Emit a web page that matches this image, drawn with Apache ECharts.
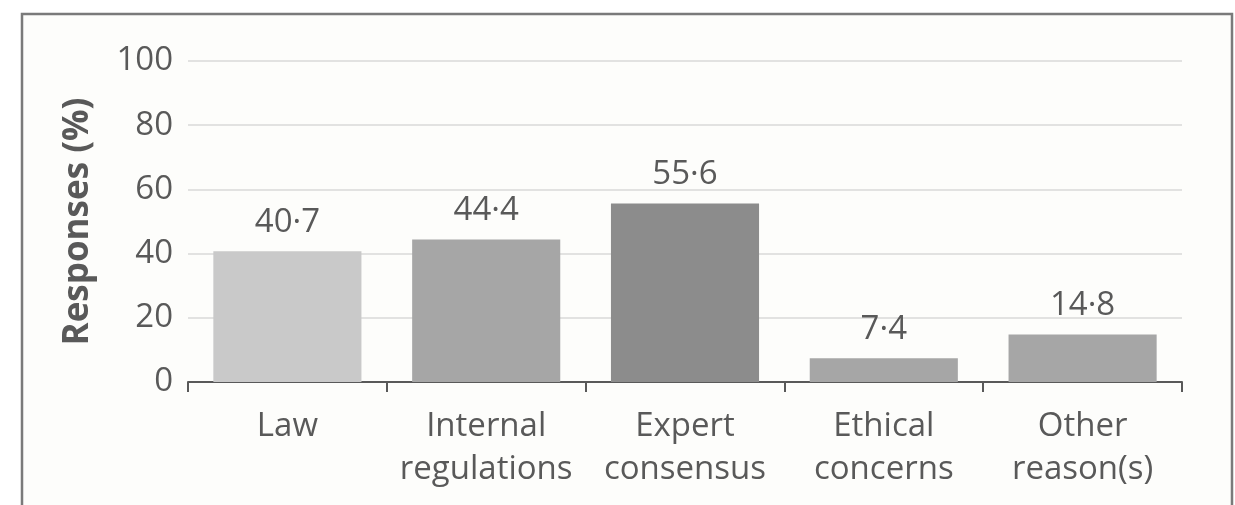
<!DOCTYPE html>
<html>
<head>
<meta charset="utf-8">
<script src="https://cdn.jsdelivr.net/npm/echarts@6/dist/echarts.min.js"></script>
<style>
  html, body { margin: 0; padding: 0; background: #ffffff; }
  #chart { width: 1235px; height: 505px; }
</style>
</head>
<body>
<div id="chart"></div>
<script>
// Reasons given, share of responses (%)
const categories = ['Law', 'Internal\nregulations', 'Expert\nconsensus', 'Ethical\nconcerns', 'Other\nreason(s)'];
const responses = [40.7, 44.4, 55.6, 7.4, 14.8];
const barColors = ['#c9c9c9', '#a6a6a6', '#8c8c8c', '#a6a6a6', '#a6a6a6'];
const yTicks = [0, 20, 40, 60, 80, 100];

const textColor = '#595959';
const fontFamily = '"Open Sans", sans-serif';

const chart = echarts.init(document.getElementById('chart'), null, { renderer: 'canvas' });

chart.setOption({
  animation: false,
  backgroundColor: '#ffffff',
  graphic: [{
    type: 'rect',
    z: -10,
    shape: { x: 22, y: 14, width: 1210, height: 520 },
    style: { fill: '#fdfdfb', stroke: '#7a7a7a', lineWidth: 2.5 }
  }],
  grid: { left: 188, right: 53, top: 61, bottom: 123, containLabel: false },
  xAxis: {
    type: 'category',
    data: categories,
    axisLine: { show: true, lineStyle: { color: textColor, width: 2 } },
    axisTick: { show: true, length: 10, lineStyle: { color: textColor, width: 2 } },
    axisLabel: {
      color: textColor,
      fontFamily: fontFamily,
      fontSize: 33,
      lineHeight: 43,
      margin: 23,
      interval: 0
    }
  },
  yAxis: {
    type: 'value',
    min: yTicks[0],
    max: yTicks[yTicks.length - 1],
    interval: 20,
    name: 'Responses (%)',
    nameLocation: 'middle',
    nameRotate: 90,
    nameGap: 92,
    nameTextStyle: {
      color: textColor,
      fontFamily: fontFamily,
      fontWeight: 'bold',
      fontSize: 35
    },
    axisLine: { show: false },
    axisTick: { show: false },
    axisLabel: {
      color: textColor,
      fontFamily: fontFamily,
      fontSize: 33,
      margin: 15
    },
    splitLine: { show: true, lineStyle: { color: '#d9d9d9', width: 1.5 } }
  },
  series: [{
    type: 'bar',
    data: responses.map((v, i) => ({ value: v, itemStyle: { color: barColors[i] } })),
    barWidth: '74.5%',
    label: {
      show: true,
      position: 'top',
      distance: 12,
      color: textColor,
      fontFamily: fontFamily,
      fontSize: 33,
      formatter: p => String(p.value).replace('.', '\u00b7')
    }
  }]
});
</script>
</body>
</html>
